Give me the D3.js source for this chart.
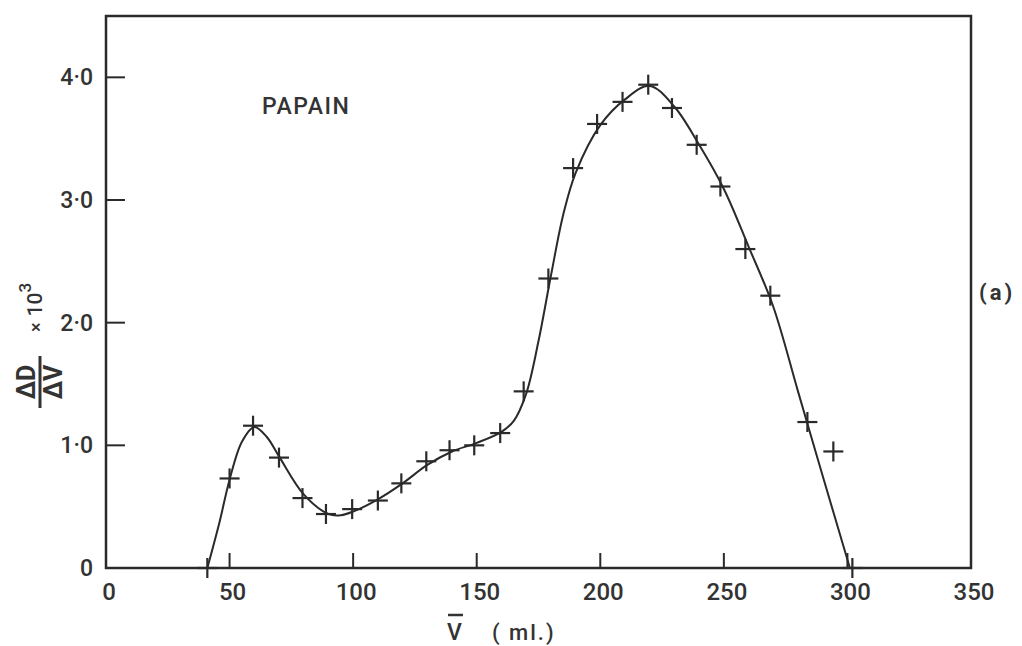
<!DOCTYPE html>
<html>
<head>
<meta charset="utf-8">
<script src="https://cdn.jsdelivr.net/npm/d3@7"></script>
<style>
  body { margin: 0; background: #fff; }
  text { font-family: Roboto, "DejaVu Sans", sans-serif; fill: #333; font-weight: 500; }
  text.heavy { font-weight: bold; }
</style>
</head>
<body>
<svg id="chart" width="1022" height="646"></svg>
<script>
// measured points (crosses)
var ptV = [41, 50, 59.5, 70, 79.5, 89, 99.6, 110, 119.5, 129.6, 139, 149, 159.5, 169, 179, 189, 198.7, 209, 219.4, 229, 239, 248.6, 258.7, 268.8, 283.8, 294.3, 302];
var ptD = [0, 0.73, 1.16, 0.9, 0.57, 0.44, 0.48, 0.55, 0.69, 0.87, 0.96, 1.0, 1.1, 1.44, 2.36, 3.26, 3.62, 3.8, 3.94, 3.75, 3.45, 3.11, 2.6, 2.22, 1.19, 0.95, 0];

// hand drawn curve through the points
var fitV = [41, 46, 50, 55, 60, 65, 70, 80, 90, 95, 100, 110, 120, 130, 140, 150, 160, 165, 170, 175, 180, 185, 190, 200, 210, 220, 230, 240, 250, 260, 270, 280, 290, 301];
var fitD = [0, 0.38, 0.72, 1.03, 1.15, 1.07, 0.91, 0.6, 0.44, 0.43, 0.46, 0.56, 0.69, 0.84, 0.95, 1.02, 1.11, 1.2, 1.42, 1.85, 2.38, 2.88, 3.22, 3.61, 3.82, 3.93, 3.76, 3.45, 3.09, 2.62, 2.13, 1.44, 0.75, 0];

var xTicks = [0, 50, 100, 150, 200, 250, 300, 350];
var yTicks = [0, 1, 2, 3, 4];
var yTickLabels = ["0", "1·0", "2·0", "3·0", "4·0"];

var svg = d3.select("#chart");
var plotL = 106, plotR = 971, plotT = 16, plotB = 568;
var ink = "#2a2a2a";

var x = d3.scaleLinear().domain([0, 350]).range([plotL, plotR]);
var y = d3.scaleLinear().domain([0, 4.5]).range([plotB, plotT]);

// frame
svg.append("rect")
    .attr("x", plotL).attr("y", plotT)
    .attr("width", plotR - plotL).attr("height", plotB - plotT)
    .attr("fill", "none").attr("stroke", ink).attr("stroke-width", 2.5);

// inward ticks
svg.append("g").selectAll("line")
    .data(xTicks.filter(function (d) { return d > 0 && d < 350; }))
    .enter().append("line")
    .attr("x1", function (d) { return x(d); }).attr("x2", function (d) { return x(d); })
    .attr("y1", plotB).attr("y2", plotB - 15)
    .attr("stroke", ink).attr("stroke-width", 2);

svg.append("g").selectAll("line")
    .data(yTicks.filter(function (d) { return d > 0; }))
    .enter().append("line")
    .attr("x1", plotL).attr("x2", plotL + 19)
    .attr("y1", function (d) { return y(d); }).attr("y2", function (d) { return y(d); })
    .attr("stroke", ink).attr("stroke-width", 2);

// tick labels
svg.append("g").selectAll("text")
    .data(xTicks)
    .enter().append("text")
    .attr("x", function (d) { return x(d) + 3; })
    .attr("y", 600)
    .attr("text-anchor", "middle")
    .attr("font-size", 24)
    .text(function (d) { return d; });

svg.append("g").selectAll("text")
    .data(yTicks)
    .enter().append("text")
    .attr("x", 93)
    .attr("y", function (d) { return y(d) + 8; })
    .attr("text-anchor", "end")
    .attr("font-size", 23)
    .text(function (d, i) { return yTickLabels[i]; });

// curve
var line = d3.line()
    .x(function (d) { return x(d[0]); })
    .y(function (d) { return y(d[1]); })
    .curve(d3.curveCatmullRom.alpha(0.5));

svg.append("path")
    .datum(fitV.map(function (v, i) { return [v, fitD[i]]; }))
    .attr("d", line)
    .attr("fill", "none").attr("stroke", ink).attr("stroke-width", 2);

// crosses
var arm = 10;
var pts = svg.append("g").selectAll("g")
    .data(ptV.map(function (v, i) { return [v, ptD[i]]; }))
    .enter().append("g")
    .attr("transform", function (d) { return "translate(" + x(d[0]) + "," + y(d[1]) + ")"; });
pts.append("line").attr("x1", -arm).attr("x2", arm).attr("y1", 0).attr("y2", 0)
    .attr("stroke", ink).attr("stroke-width", 2.2);
pts.append("line").attr("x1", 0).attr("x2", 0).attr("y1", -arm).attr("y2", arm)
    .attr("stroke", ink).attr("stroke-width", 2.2);

// labels
svg.append("text").attr("x", 262).attr("y", 114).attr("font-size", 23)
    .attr("letter-spacing", 1.5).text("PAPAIN");
svg.append("text").attr("class", "heavy").attr("x", 979).attr("y", 300).attr("font-size", 22)
    .attr("letter-spacing", 3).text("(a)");

// x axis title, V with a bar
var xt = svg.append("text").attr("x", 447).attr("y", 640).attr("font-size", 23);
xt.append("tspan").text("V");
xt.append("tspan").attr("x", 492).attr("font-size", 22).attr("letter-spacing", 2).text("( ml.)");
svg.append("line").attr("x1", 448).attr("x2", 463).attr("y1", 615).attr("y2", 615)
    .attr("stroke", "#333").attr("stroke-width", 2.5);

// y axis title, ΔD/ΔV x 10^3 turned on its side
var yt = svg.append("g").attr("transform", "translate(40,382) rotate(-90)");
yt.append("text").attr("class", "heavy").attr("x", 0).attr("y", -5).attr("text-anchor", "middle")
    .attr("font-size", 25).text("ΔD");
yt.append("line").attr("x1", -26).attr("x2", 26).attr("y1", 0).attr("y2", 0)
    .attr("stroke", "#333").attr("stroke-width", 3);
yt.append("text").attr("class", "heavy").attr("x", 0).attr("y", 22).attr("text-anchor", "middle")
    .attr("font-size", 25).text("ΔV");
var sc = yt.append("text").attr("x", 50).attr("y", 2).attr("font-size", 21);
sc.append("tspan").attr("font-size", 18).text("×");
sc.append("tspan").attr("dx", 6).text("10");
sc.append("tspan").attr("dy", -11).attr("font-size", 17).text("3");
</script>
</body>
</html>
